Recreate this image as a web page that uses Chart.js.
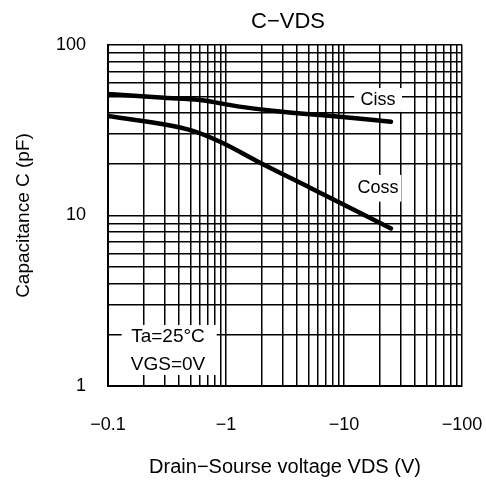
<!DOCTYPE html>
<html><head><meta charset="utf-8">
<script src="https://cdn.jsdelivr.net/npm/chart.js@4/dist/chart.umd.min.js"></script>
<style>html,body{margin:0;padding:0;background:#fff;overflow:hidden}#wrap{width:486px;height:484px;position:relative}</style>
</head><body><div id="wrap"><canvas id="c" width="486" height="484"></canvas></div>
<script>
// ---- data ----
const cissVds = [0.1, 0.3, 0.6, 1.3, 2.5, 4.8, 9.2, 25];
const cissPf  = [51.6, 49.0, 47.6, 43.5, 41.2, 39.4, 38.0, 35.5];
const cossVds = [0.1, 0.5, 0.89, 2, 5.1, 25];
const cossPf  = [38.4, 31.7, 27.1, 20.2, 14.6, 8.4];
const xDecades = [0.1, 1, 10, 100];
const xTickLabels = ['−0.1', '−1', '−10', '−100'];
const yDecades = [1, 10, 100];
const yTickLabels = ['1', '10', '100'];
const minorSteps = [1, 2, 3, 4, 5, 6, 7, 8, 9];
const titleText = 'C−VDS';
const xTitle = 'Drain−Sourse voltage VDS (V)';
const yTitle = 'Capacitance C (pF)';
const seriesNames = ['Ciss', 'Coss'];
const condLines = ['Ta=25°C', 'VGS=0V'];

const FONT = "'Liberation Sans', Arial, sans-serif";

function logTicks(decades) {
  const t = [];
  for (let i = 0; i < decades.length - 1; i++) {
    for (const m of minorSteps) t.push({ value: +(decades[i] * m).toPrecision(6) });
  }
  t.push({ value: decades[decades.length - 1] });
  return t;
}
function labelFor(decades, labels) {
  return (v) => {
    const i = decades.findIndex(d => Math.abs(d - v) / d < 1e-6);
    return i >= 0 ? labels[i] : '';
  };
}

// annotation boxes in data coordinates
const notes = [
  { box: [12.2, 31.0, 55.9, 40.5], lines: [seriesNames[0]], at: [19.4, 47.6], size: 18 },
  { box: [12.3, 30.6, 17.3, 12.05], lines: [seriesNames[1]], at: [19.4, 14.5], size: 18 },
  { box: [0.1306, 0.834, 2.28, 1.16], lines: condLines, at: [0.3225, 1.945], at2: [0.3225, 1.328], size: 19 }
];

const annot = {
  id: 'annot',
  beforeDatasetsDraw(chart) {
    const { ctx, scales: { x, y } } = chart;
    ctx.save();
    for (const n of notes) {
      const x0 = x.getPixelForValue(n.box[0]), x1 = x.getPixelForValue(n.box[1]);
      const y0 = y.getPixelForValue(n.box[2]), y1 = y.getPixelForValue(n.box[3]);
      ctx.fillStyle = '#fff';
      ctx.fillRect(x0, y0, x1 - x0, y1 - y0);
      ctx.fillStyle = '#000';
      ctx.font = n.size + 'px ' + FONT;
      ctx.textAlign = 'center';
      ctx.textBaseline = 'middle';
      ctx.fillText(n.lines[0], x.getPixelForValue(n.at[0]), y.getPixelForValue(n.at[1]));
      if (n.lines[1]) ctx.fillText(n.lines[1], x.getPixelForValue(n.at2[0]), y.getPixelForValue(n.at2[1]));
    }
    ctx.restore();
  },
  afterDraw(chart) {
    const { ctx, chartArea } = chart;
    ctx.save();
    ctx.fillStyle = '#000';
    ctx.font = '22px ' + FONT;
    ctx.textAlign = 'center';
    ctx.textBaseline = 'middle';
    ctx.fillText(titleText, (chartArea.left + chartArea.right) / 2 + 3, 22);
    ctx.restore();
  }
};

new Chart(document.getElementById('c'), {
  type: 'line',
  data: {
    datasets: [
      { label: seriesNames[0], data: cissVds.map((v, i) => ({ x: v, y: cissPf[i] })) },
      { label: seriesNames[1], data: cossVds.map((v, i) => ({ x: v, y: cossPf[i] })) }
    ]
  },
  options: {
    responsive: false,
    animation: false,
    events: [],
    layout: { padding: { left: 0, right: 24, top: 45, bottom: 0 } },
    elements: {
      line: { borderColor: '#000', borderWidth: 4.5, borderCapStyle: 'round', borderJoinStyle: 'round', cubicInterpolationMode: 'monotone', fill: false },
      point: { radius: 0 }
    },
    plugins: { legend: { display: false }, tooltip: { enabled: false }, title: { display: false } },
    scales: {
      x: {
        type: 'logarithmic', min: 0.1, max: 100,
        afterBuildTicks: (s) => { s.ticks = logTicks(xDecades); },
        afterFit: (s) => { s.height = 98; s.paddingLeft = 0; s.paddingRight = 0; },
        ticks: { autoSkip: false, maxRotation: 0, padding: 28, color: '#000', font: { family: FONT, size: 18 }, callback: labelFor(xDecades, xTickLabels) },
        grid: { color: '#000', lineWidth: 1.5, drawTicks: false },
        border: { color: '#000', width: 2 },
        title: { display: true, text: xTitle, color: '#000', font: { family: FONT, size: 20 }, padding: { top: 0, bottom: 5 } }
      },
      y: {
        type: 'logarithmic', min: 1, max: 100,
        afterBuildTicks: (s) => { s.ticks = logTicks(yDecades); },
        afterFit: (s) => { s.width = 108; s.paddingTop = 0; s.paddingBottom = 0; },
        ticks: { autoSkip: false, padding: 22, color: '#000', font: { family: FONT, size: 18 }, callback: labelFor(yDecades, yTickLabels) },
        grid: { color: '#000', lineWidth: 1.5, drawTicks: false },
        border: { color: '#000', width: 2 },
        title: { display: true, text: yTitle, color: '#000', font: { family: FONT, size: 19 }, padding: { top: 12, bottom: 0 } }
      }
    }
  },
  plugins: [annot]
});
</script></body></html>
